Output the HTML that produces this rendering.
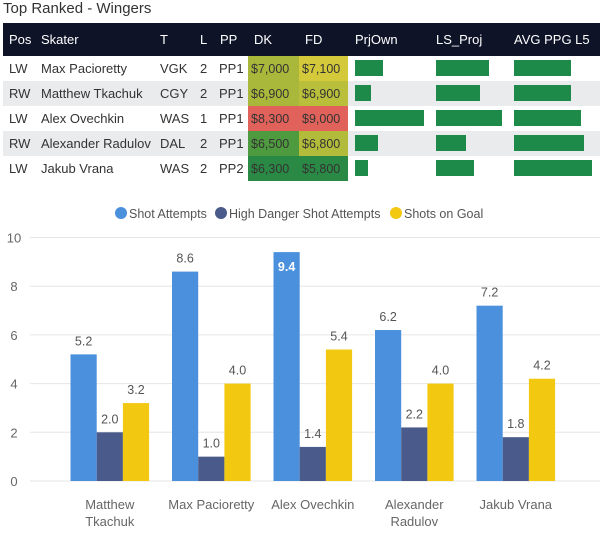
<!DOCTYPE html>
<html><head><meta charset="utf-8"><style>
body{margin:0;width:600px;height:541px;background:#fff;font-family:"Liberation Sans",sans-serif;overflow:hidden;position:relative}
.t{position:absolute;white-space:nowrap}
</style></head><body>
<div class="t" style="left:3px;top:0px;font-size:15px;color:#333">Top Ranked - Wingers</div>
<svg id="tbl" width="600" height="185" style="position:absolute;left:0;top:0"></svg>
<svg id="chart" width="600" height="345" style="position:absolute;left:0;top:196px"></svg>
<script>
const NS='http://www.w3.org/2000/svg';
function mk(p,tag,a,txt){const e=document.createElementNS(NS,tag);for(const k in a)e.setAttribute(k,a[k]);if(txt!=null)e.textContent=txt;p.appendChild(e);return e;}
// ---- table data ----
const pos=['LW','RW','LW','RW','LW'];
const skaters=['Max Pacioretty','Matthew Tkachuk','Alex Ovechkin','Alexander Radulov','Jakub Vrana'];
const teams=['VGK','CGY','WAS','DAL','WAS'];
const lines=['2','2','1','2','2'];
const pps=['PP1','PP1','PP1','PP1','PP2'];
const dk=['$7,000','$6,900','$8,300','$6,500','$6,300'];
const fd=['$7,100','$6,900','$9,000','$6,800','$5,800'];
const dkColors=['#a9b83a','#a9b83a','#e0625a','#4e9a3e','#2a8a45'];
const fdColors=['#d3c93a','#b9bf3a','#e0625a','#b3bc3a','#2a8a45'];
const prjOwn=[28,16,69,23,13];
const lsProj=[53,44,66,30,38];
const avgPpg=[57,57,67,70,78];
const T=document.getElementById('tbl');
mk(T,'rect',{x:3,y:23,width:597,height:33,fill:'#0e1328',});
const heads=[['Pos',9],['Skater',41],['T',160],['L',200],['PP',220],['DK',254],['FD',305],['PrjOwn',355],['LS_Proj',436],['AVG PPG L5',514]];
heads.forEach(h=>{const e=mk(T,'text',{x:h[1],y:44,fill:'#fff','font-size':13,'font-family':'Liberation Sans'},h[0]);

});
skaters.forEach((s,i)=>{const y=56+i*25;
 if(i%2==1){const r=mk(T,'rect',{x:3,y:y,width:597,height:25,fill:'#eaebec'});}
 const c1=mk(T,'rect',{x:248,y:y,width:51,height:25,fill:dkColors[i]});
 const c2=mk(T,'rect',{x:299,y:y,width:49,height:25,fill:fdColors[i]});
 const ty=y+17;const st={fill:'#333','font-size':13,'font-family':'Liberation Sans'};
 [[pos[i],9],[s,41],[teams[i],160],[lines[i],200],[pps[i],219]].forEach(v=>{const e=mk(T,'text',Object.assign({x:v[1],y:ty},st),v[0]);});
 const d=mk(T,'text',Object.assign({x:251,y:ty,'font-size':12.5}),dk[i]);d.setAttribute('fill','#333');d.setAttribute('font-family','Liberation Sans');
 const f=mk(T,'text',Object.assign({x:302,y:ty,'font-size':12.5}),fd[i]);f.setAttribute('fill','#333');f.setAttribute('font-family','Liberation Sans');
 [[prjOwn,355],[lsProj,436],[avgPpg,514]].forEach(b=>{const r=mk(T,'rect',{x:b[1],y:y+4,width:b[0][i],height:16,fill:'#1e8a4a'});});
});
// ---- chart data ----
const cats=[['Matthew','Tkachuk'],['Max Pacioretty'],['Alex Ovechkin'],['Alexander','Radulov'],['Jakub Vrana']];
const shotAttempts=[5.2,8.6,9.4,6.2,7.2];
const hdAttempts=[2.0,1.0,1.4,2.2,1.8];
const shotsOnGoal=[3.2,4.0,5.4,4.0,4.2];
const yTicks=[0,2,4,6,8,10];
const C=document.getElementById('chart');
const y0=285,yScale=24.35;const Y=v=>y0-v*yScale;
const bw=26.2;
const groupStart=i=>70.5+i*101.5;
yTicks.forEach(t=>{const l=mk(C,'line',{x1:30,x2:600,y1:Y(t),y2:Y(t),stroke:'#e6e6e6'});
 const e=mk(C,'text',{x:14,y:Y(t)+5,'text-anchor':'middle',fill:'#666','font-size':13,'font-family':'Liberation Sans'},t);});
const series=[[shotAttempts,'#4a90dc','shot-attempts'],[hdAttempts,'#4a5a8a','high-danger'],[shotsOnGoal,'#f2c811','shots-on-goal']];
cats.forEach((c,i)=>{
 series.forEach((s,j)=>{const x=groupStart(i)+j*bw;const v=s[0][i];
  const r=mk(C,'rect',{x:x,y:Y(v),width:bw,height:v*yScale,fill:s[1]});
  const inside=(j==0&&v>9);
  const t=mk(C,'text',{x:x+bw/2,y:inside?Y(v)+19:Y(v)-9,'text-anchor':'middle',fill:inside?'#fff':'#555','font-size':12.5,'font-weight':inside?'bold':'normal','font-family':'Liberation Sans'},v.toFixed(1));
  });
 c.forEach((ln,k)=>{const t=mk(C,'text',{x:groupStart(i)+bw*1.5,y:313+k*17,'text-anchor':'middle',fill:'#666','font-size':13,'font-family':'Liberation Sans'},ln);});
});
const leg=[['Shot Attempts','#4a90dc',121],['High Danger Shot Attempts','#4a5a8a',221],['Shots on Goal','#f2c811',396]];
leg.forEach(l=>{const c=mk(C,'circle',{cx:l[2],cy:17,r:6,fill:l[1]});
 const t=mk(C,'text',{x:l[2]+8,y:22,fill:'#555','font-size':12.5,'font-family':'Liberation Sans'},l[0]);});
</script>
</body></html>
